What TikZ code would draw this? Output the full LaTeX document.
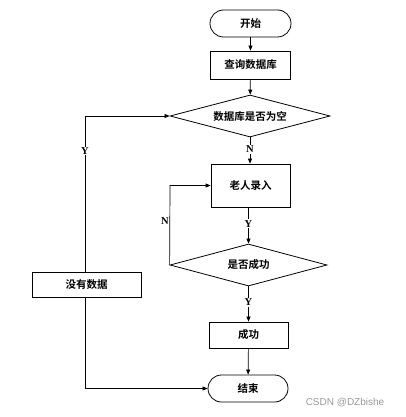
\documentclass[tikz,border=0pt]{standalone}
\usepackage{fontspec}
\setmainfont{Liberation Serif}
\newfontfamily\cjk{Noto Sans CJK SC}[BoldFont={* Bold}]
\usetikzlibrary{shapes.geometric,arrows.meta}
\begin{document}
\begin{tikzpicture}[x=1pt,y=-1pt,
  every node/.style={font=\cjk\bfseries\fontsize{10.5}{12}\selectfont},
  box/.style={draw,line width=0.8pt,minimum width=80pt,minimum height=28pt,inner sep=0pt},
  term/.style={draw,line width=0.8pt,rounded corners=13.5pt,minimum width=81pt,minimum height=27pt,inner sep=0pt},
  dec/.style={draw,line width=0.8pt,diamond,aspect=3.8,minimum width=160pt,minimum height=42pt,inner sep=0pt},
  lbl/.style={font=\bfseries\fontsize{10.5}{12}\selectfont,fill=white,inner sep=1pt},
  arr/.style={draw,line width=0.7pt,-{Triangle[length=5pt,width=4pt]}},
  ln/.style={draw,line width=0.7pt}]
\useasboundingbox (0,0) rectangle (406,417);
\node[term] (start) at (250.5,23.5) {开始};
\node[box,minimum height=28pt] (query) at (250.5,65) {查询数据库};
\node[dec] (d1) at (250,116) {数据库是否为空};
\node[box,minimum width=79pt,minimum height=43pt] (input) at (250.5,185.5) {老人录入};
\node[dec,minimum width=157pt] (d2) at (248.5,265) {是否成功};
\node[box,minimum width=109pt,minimum height=25pt] (none) at (86.5,284.5) {没有数据};
\node[box,minimum width=79pt,minimum height=26pt] (ok) at (248.5,335) {成功};
\node[term,minimum width=80pt] (end) at (248,388.5) {结束};
\coordinate (c1) at (85,116);
\coordinate (c2) at (170,185.5);
\coordinate (c3) at (85,388.5);
\draw[arr] (start) -- (query);
\draw[arr] (query) -- (d1);
\draw[arr] (d1.south) -- node[lbl,pos=0.45] {N} (input.north -| d1.south);
\draw[arr] (input.south -| d2.north) -- node[lbl,pos=0.45] {Y} (d2.north);
\draw[arr] (d2.west) -- node[lbl,pos=0.55,xshift=-5pt,fill=none] {N} (c2) -- (input.west);
\draw[arr] (d2.south) -- node[lbl,pos=0.45] {Y} (ok.north -| d2.south);
\draw[arr] (ok) -- (end);
\draw[arr] (none.north -| c1) -- node[lbl,pos=0.775] {Y} (c1) -- (d1.west);
\draw[arr] (none.south -| c1) -- (c3) -- (end.west);
\node[font=\fontspec{Liberation Sans}\fontsize{10}{12}\selectfont,text=black!40] (wm) at (345,403) {CSDN @DZbishe};
\end{tikzpicture}
\end{document}
